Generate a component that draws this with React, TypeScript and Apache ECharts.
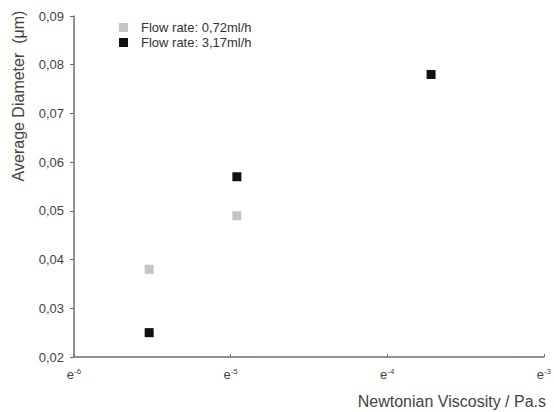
import React, { useEffect, useRef } from "react";
import * as echarts from "echarts";

// x values are natural-log exponents of viscosity (Pa.s), i.e. viscosity = e^x
const lowFlowName = "Flow rate: 0,72ml/h";
const highFlowName = "Flow rate: 3,17ml/h";
const lowFlowX = [-5.52, -4.96];
const lowFlowY = [0.038, 0.049];
const highFlowX = [-5.52, -4.96, -3.72];
const highFlowY = [0.025, 0.057, 0.078];
const xTickExponents = [-6, -5, -4, -3];
const yTicks = [0.02, 0.03, 0.04, 0.05, 0.06, 0.07, 0.08, 0.09];

export default function App() {
  const ref = useRef<HTMLDivElement>(null);
  useEffect(() => {
    if (!ref.current) return;
    const chart = echarts.init(ref.current, undefined, { renderer: "svg" });
    const font = "Liberation Sans, Arial, sans-serif";
    chart.setOption({
      animation: false,
      backgroundColor: "#fffffd",
      textStyle: { fontFamily: font },
      grid: { left: 74, right: 8, top: 16, bottom: 55 },
      legend: {
        orient: "vertical",
        left: 114,
        top: 16,
        itemWidth: 9,
        itemHeight: 9,
        itemGap: 2,
        textStyle: { fontFamily: font, fontSize: 13, color: "#333", padding: [0, 0, 0, 8] },
        data: [
          { name: lowFlowName, icon: "rect" },
          { name: highFlowName, icon: "rect" },
        ],
      },
      xAxis: {
        type: "value",
        min: xTickExponents[0],
        max: xTickExponents[xTickExponents.length - 1],
        interval: 1,
        splitLine: { show: false },
        axisLine: { lineStyle: { color: "#6e6e6e", width: 1.5 } },
        axisTick: { inside: true, length: 3, lineStyle: { color: "#6e6e6e" } },
        axisLabel: {
          margin: 10,
          formatter: (v: number) => `{b|e}{s|${v}}`,
          rich: {
            b: { fontSize: 13, color: "#444", fontFamily: font, lineHeight: 15 },
            s: { fontSize: 8, color: "#444", fontFamily: font, verticalAlign: "top", lineHeight: 15, padding: [0, 0, 6, 0] },
          },
        },
      },
      yAxis: {
        type: "value",
        min: yTicks[0],
        max: yTicks[yTicks.length - 1],
        interval: 0.01,
        splitLine: { show: false },
        axisLine: { show: true, lineStyle: { color: "#6e6e6e", width: 1.5 } },
        axisTick: { show: true, length: 4, lineStyle: { color: "#6e6e6e" } },
        axisLabel: {
          margin: 10,
          fontSize: 13,
          color: "#444",
          fontFamily: font,
          formatter: (v: number) => v.toFixed(2).replace(".", ","),
        },
      },
      graphic: [
        {
          type: "text",
          x: 18,
          y: 96,
          rotation: Math.PI / 2,
          style: {
            text: "Average Diameter  (μm)",
            fontSize: 16,
            fontFamily: font,
            fill: "#444",
            textAlign: "center",
            textVerticalAlign: "middle",
          },
        },
        {
          type: "text",
          right: 8,
          top: 393,
          style: {
            text: "Newtonian Viscosity / Pa.s",
            fontSize: 16,
            fontFamily: font,
            fill: "#444",
          },
        },
      ],
      series: [
        {
          name: lowFlowName,
          type: "scatter",
          symbol: "rect",
          symbolSize: 9,
          itemStyle: { color: "#c4c4c4", opacity: 1 },
          data: lowFlowX.map((x, i) => [x, lowFlowY[i]]),
        },
        {
          name: highFlowName,
          type: "scatter",
          symbol: "rect",
          symbolSize: 9,
          itemStyle: { color: "#111111", opacity: 1 },
          data: highFlowX.map((x, i) => [x, highFlowY[i]]),
        },
      ],
    });
    return () => chart.dispose();
  }, []);
  return <div ref={ref} style={{ width: 554, height: 412, position: "absolute", left: 0, top: 0 }} />;
}
